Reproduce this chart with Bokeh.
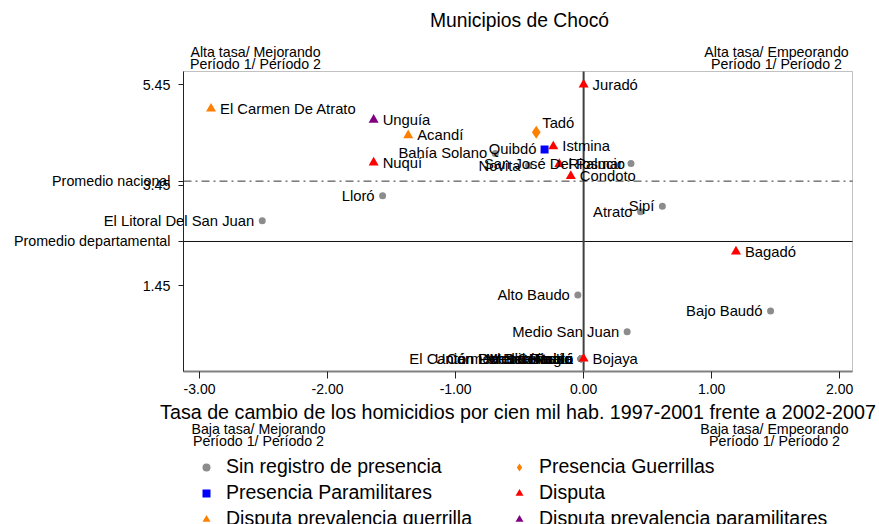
from bokeh.plotting import figure
from bokeh.models import (Range1d, FixedTicker, NumeralTickFormatter, Label, LabelSet,
                          Legend, LegendItem, ColumnDataSource, BoxAnnotation)
from bokeh.core.properties import value
from bokeh.embed import file_html
from bokeh.resources import INLINE

FONT = "Liberation Sans"

# ---------------- data ----------------
municipios = ["Juradó", "El Carmen De Atrato", "Unguía", "Acandí", "Tadó", "Quibdó", "Istmina",
              "Bahía Solano", "Nuquí", "Novita", "Riosucio", "San José Del Palmar", "Condoto",
              "Lloró", "El Litoral Del San Juan", "Sipí", "Atrato", "Bagadó", "Alto Baudo",
              "Bajo Baudó", "Medio San Juan", "Bojaya",
              "El Cantón Del San Pablo", "Carmen Del Darién", "Cértegui", "Medio Atrato",
              "Medio Baudó", "Río Iró", "Unión Panamericana"]
cambio = [0.00, -2.91, -1.64, -1.37, -0.37, -0.305, -0.237,
          -0.69, -1.64, -0.43, -0.19, 0.37, -0.10,
          -1.57, -2.51, 0.615, 0.445, 1.19, -0.045,
          1.46, 0.34, 0.00,
          -0.02, -0.02, -0.02, -0.02, -0.02, -0.02, -0.02]
tasa = [5.45, 4.97, 4.75, 4.44, 4.50, 4.16, 4.22,
        4.08, 3.90, 3.84, 3.87, 3.88, 3.63,
        3.24, 2.74, 3.03, 2.92, 2.13, 1.265,
        0.95, 0.535, 0.00,
        0.00, 0.00, 0.00, 0.00, 0.00, 0.00, 0.00]
grupo = ["Disputa", "Disputa prevalencia guerrilla", "Disputa prevalencia paramilitares",
         "Disputa prevalencia guerrilla", "Presencia Guerrillas", "Presencia Paramilitares", "Disputa",
         "Sin registro de presencia", "Disputa", "Sin registro de presencia", "Disputa",
         "Sin registro de presencia", "Disputa",
         "Sin registro de presencia", "Sin registro de presencia", "Sin registro de presencia",
         "Sin registro de presencia", "Disputa", "Sin registro de presencia",
         "Sin registro de presencia", "Sin registro de presencia", "Disputa",
         "Sin registro de presencia", "Sin registro de presencia", "Sin registro de presencia",
         "Sin registro de presencia", "Sin registro de presencia", "Sin registro de presencia",
         "Sin registro de presencia"]
categorias = ["Sin registro de presencia", "Presencia Guerrillas", "Presencia Paramilitares",
              "Disputa", "Disputa prevalencia guerrilla", "Disputa prevalencia paramilitares"]
promedio_nacional = 3.53
promedio_departamental = 2.33
x_ticks = [-3, -2, -1, 0, 1, 2]
y_ticks = [1.45, 3.45, 5.45]
titulo = "Municipios de Chocó"
eje_x = "Tasa de cambio de los homicidios por cien mil hab. 1997-2001 frente a 2002-2007"
esquinas = [("Alta tasa/ Mejorando", "Período 1/ Período 2"),
            ("Alta tasa/ Empeorando", "Período 1/ Período 2"),
            ("Baja tasa/ Mejorando", "Período 1/ Período 2"),
            ("Baja tasa/ Empeorando", "Período 1/ Período 2")]

# label side for each municipio (style)
lado = ["r", "r", "r", "r", "a", "l", "r",
        "l", "r", "l", "r", "l", "r",
        "l", "l", "l", "l", "r", "l",
        "l", "l", "r",
        "l", "l", "l", "l", "l", "l", "l"]

estilo = {
    "Sin registro de presencia": dict(marker="circle", size=7, color="#8c8c8c"),
    "Presencia Guerrillas": dict(marker="diamond", size=13, color="#ff7f00"),
    "Presencia Paramilitares": dict(marker="square", size=8, color="#0000ff"),
    "Disputa": dict(marker="triangle", size=10, color="#ff0000"),
    "Disputa prevalencia guerrilla": dict(marker="triangle", size=10, color="#ff7f00"),
    "Disputa prevalencia paramilitares": dict(marker="triangle", size=10, color="#800080"),
}

# ---------------- layout geometry (pixels) ----------------
W, H = 879, 524
BOX_L, BOX_R, BOX_T, BOX_B = 183, 852, 71, 371      # plot box in page pixels
XB0, XB1 = -3.125, 2.10                               # data limits of the plot box
YB0, YB1 = -0.255, 5.71
sx = (BOX_R - BOX_L) / (XB1 - XB0)
sy = (BOX_B - BOX_T) / (YB1 - YB0)
x_range = Range1d(XB0 - BOX_L / sx, XB1 + (W - BOX_R) / sx)
y_range = Range1d(YB0 - (H - BOX_B) / sy, YB1 + BOX_T / sy)

p = figure(width=W, height=H, x_range=x_range, y_range=y_range, title=None,
           output_backend="svg", toolbar_location=None,
           min_border=0, min_border_left=0, min_border_right=0,
           min_border_top=0, min_border_bottom=0)
p.xgrid.visible = False
p.ygrid.visible = False
p.outline_line_color = None
p.background_fill_color = "white"
p.border_fill_color = "white"

# plot box
p.add_layout(BoxAnnotation(left=XB0, right=XB1, bottom=YB0, top=YB1,
                           fill_color=None, fill_alpha=0, line_color="#333333",
                           line_width=1, level="underlay"))

xa = p.xaxis[0]
xa.fixed_location = YB0
xa.bounds = (XB0, XB1)
xa.ticker = FixedTicker(ticks=x_ticks, minor_ticks=[])
xa.formatter = NumeralTickFormatter(format="0.00")
xa.axis_label = eje_x
xa.axis_label_text_font = FONT
xa.axis_label_text_font_size = "19.7px"
xa.axis_label_text_font_style = "normal"
xa.axis_label_text_color = "black"
xa.axis_label_standoff = 4
xa.major_label_text_font = FONT
xa.major_label_text_font_size = "14px"
xa.major_label_text_color = "black"
xa.major_label_standoff = 5
xa.major_tick_out = 7
xa.major_tick_in = 0
xa.minor_tick_out = 0
xa.minor_tick_in = 0
xa.major_tick_line_color = "#222222"
xa.axis_line_color = "#808080"
xa.axis_line_width = 2

ya = p.yaxis[0]
ya.fixed_location = XB0
ya.bounds = (YB0, YB1)
ya.ticker = FixedTicker(ticks=y_ticks + [promedio_departamental, promedio_nacional], minor_ticks=[])
ya.formatter = NumeralTickFormatter(format="0.00")
ya.major_label_overrides = {promedio_nacional: "Promedio nacional",
                            promedio_departamental: "Promedio departamental"}
ya.major_label_text_font = FONT
ya.major_label_text_font_size = "14.3px"
ya.major_label_text_color = "black"
ya.major_label_standoff = 8
ya.major_tick_out = 5
ya.major_tick_in = 0
ya.minor_tick_out = 0
ya.minor_tick_in = 0
ya.major_tick_line_color = "#222222"
ya.axis_line_color = "#222222"

# reference lines inside the box
p.segment(x0=[XB0], x1=[XB1], y0=[promedio_nacional], y1=[promedio_nacional],
          line_color="#333333", line_width=1, line_dash="8 4 2 4")
p.segment(x0=[XB0], x1=[XB1], y0=[promedio_departamental], y1=[promedio_departamental],
          line_color="#111111", line_width=1)
p.segment(x0=[0], x1=[0], y0=[YB0], y1=[YB1], line_color="#404040", line_width=2)

# points
renderers = {}
for cat in categorias:
    idx = [i for i, g in enumerate(grupo) if g == cat]
    src = ColumnDataSource(dict(x=[cambio[i] for i in idx], y=[tasa[i] for i in idx]))
    st = estilo[cat]
    renderers[cat] = p.scatter("x", "y", source=src, marker=st["marker"], size=st["size"],
                               fill_color=st["color"], line_color=None)

# point labels
def label_set(side, **kw):
    idx = [i for i, s in enumerate(lado) if s == side]
    src = ColumnDataSource(dict(x=[cambio[i] for i in idx], y=[tasa[i] for i in idx],
                                t=[municipios[i] for i in idx]))
    p.add_layout(LabelSet(x="x", y="y", text="t", source=src, text_font=value(FONT),
                          text_font_size="14.8px", text_color="black",
                          text_baseline="middle", **kw))

label_set("l", x_offset=-8, text_align="right")
label_set("r", x_offset=9, text_align="left")
label_set("a", x_offset=6, y_offset=9, text_align="left")

# title and corner annotations (page pixel positions)
def txt(s, px, py, size="14.2px"):
    p.add_layout(Label(x=px, y=H - py, x_units="screen", y_units="screen", text=s,
                       text_font=FONT, text_font_size=size, text_color="black",
                       text_align="center", text_baseline="middle"))

txt(titulo, 519, 20, "19.3px")
corner_pos = [(255, 51.5), (776, 51.5), (258, 428), (774, 428)]
for (l1, l2), (cx, cy) in zip(esquinas, corner_pos):
    txt(l1, cx, cy)
    txt(l2, cx, cy + 12)

# legends (two columns)
col1 = ["Sin registro de presencia", "Presencia Paramilitares", "Disputa prevalencia guerrilla"]
col2 = ["Presencia Guerrillas", "Disputa", "Disputa prevalencia paramilitares"]
for cols, gx in ((col1, 196), (col2, 509)):
    leg = Legend(items=[LegendItem(label=c, renderers=[renderers[c]]) for c in cols],
                 location=(gx, H - 530), orientation="vertical",
                 padding=0, margin=0, spacing=3,
                 glyph_width=20, glyph_height=20, label_height=20, label_standoff=10,
                 label_text_font=FONT, label_text_font_size="19.5px", label_text_color="black",
                 border_line_color=None, background_fill_alpha=0)
    p.add_layout(leg)

open("out.html", "w").write(file_html(p, INLINE))
